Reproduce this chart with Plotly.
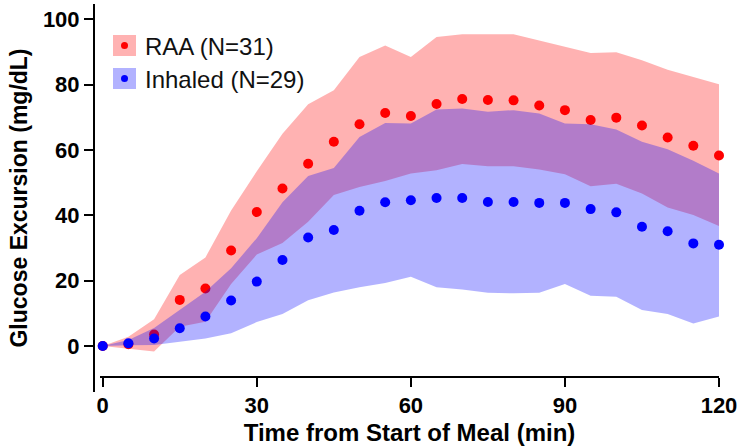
import plotly.graph_objects as go

# ---------------- data ----------------
time_min = [0, 5, 10, 15, 20, 25, 30, 35, 40, 45, 50, 55, 60,
            65, 70, 75, 80, 85, 90, 95, 100, 105, 110, 115, 120]

raa_mean = [0, 0.5, 3.5, 14.1, 17.6, 29.2, 41.0, 48.2, 55.8, 62.5, 67.9, 71.3, 70.4,
            74.1, 75.6, 75.3, 75.2, 73.6, 72.2, 69.2, 69.9, 67.5, 63.8, 61.3, 58.3]
raa_low = [0, -0.8, -1.7, 5.9, 7.4, 19.0, 28.0, 31.5, 38.0, 46.2, 48.7, 50.5, 52.8,
           53.8, 55.7, 55.0, 55.0, 54.0, 52.6, 48.9, 49.7, 46.7, 42.4, 40.1, 36.7]
raa_high = [0, 2.8, 8.2, 21.7, 27.1, 41.5, 53.5, 65.0, 74.0, 78.3, 88.5, 92.0, 88.5,
            94.6, 95.4, 95.4, 95.4, 93.5, 91.7, 89.7, 89.9, 87.5, 84.6, 82.4, 80.1]

inh_mean = [0, 0.8, 2.3, 5.4, 9.0, 13.9, 19.7, 26.3, 33.2, 35.5, 41.4, 44.0, 44.6,
            45.3, 45.3, 44.1, 44.1, 43.8, 43.8, 41.9, 40.9, 36.5, 35.1, 31.4, 31.0]
inh_low = [0, 0.2, 0.3, 1.3, 2.3, 3.9, 7.3, 9.8, 14.0, 16.4, 18.0, 19.3, 21.2,
           18.0, 17.3, 16.3, 16.1, 16.3, 19.0, 15.4, 15.1, 11.0, 9.8, 6.9, 9.0]
inh_high = [0, 1.8, 5.5, 11.0, 16.6, 23.8, 33.0, 44.0, 52.0, 54.5, 64.0, 68.3, 68.1,
            72.4, 72.7, 71.7, 72.2, 71.2, 68.1, 67.9, 66.3, 62.5, 60.2, 56.7, 52.8]

series_names = ["RAA (N=31)", "Inhaled (N=29)"]
x_ticks = [0, 30, 60, 90, 120]
y_ticks = [0, 20, 40, 60, 80, 100]

# ---------------- layout geometry ----------------
W_PX, H_PX = 740, 448
L, R, T, B = 94, 21, 4, 56
PW = W_PX - L - R
PH = H_PX - T - B


def fx(px):
    return (px - L) / PW


def fy(py):
    return (H_PX - B - py) / PH


RED = "#ff0000"
BLUE = "#0000ff"
RED_FILL = "rgba(255,0,0,0.3)"
BLUE_FILL = "rgba(0,0,255,0.3)"
FONT = "Liberation Sans, Arial, sans-serif"

fig = go.Figure()

# RAA band
fig.add_trace(go.Scatter(
    x=time_min + time_min[::-1], y=raa_high + raa_low[::-1],
    fill="toself", fillcolor=RED_FILL, mode="lines", line=dict(width=0),
    hoverinfo="skip", showlegend=False))
# RAA means
fig.add_trace(go.Scatter(
    x=time_min, y=raa_mean, mode="markers", name=series_names[0],
    marker=dict(color=RED, size=10, line=dict(width=0)),
    cliponaxis=False, showlegend=False))
# Inhaled band
fig.add_trace(go.Scatter(
    x=time_min + time_min[::-1], y=inh_high + inh_low[::-1],
    fill="toself", fillcolor=BLUE_FILL, mode="lines", line=dict(width=0),
    hoverinfo="skip", showlegend=False))
# Inhaled means
fig.add_trace(go.Scatter(
    x=time_min, y=inh_mean, mode="markers", name=series_names[1],
    marker=dict(color=BLUE, size=10, line=dict(width=0)),
    cliponaxis=False, showlegend=False))

# custom legend
shapes = []
annotations = []
legend_rows = [(series_names[0], RED_FILL, RED, 35, 56),
               (series_names[1], BLUE_FILL, BLUE, 68, 89)]
for name, fillc, dotc, ytop, ybot in legend_rows:
    shapes.append(dict(type="rect", xref="paper", yref="paper",
                       x0=fx(113), x1=fx(136), y0=fy(ybot), y1=fy(ytop),
                       fillcolor=fillc, line=dict(width=0), layer="above"))
    cy = (ytop + ybot) / 2
    shapes.append(dict(type="circle", xref="paper", yref="paper",
                       x0=fx(121), x1=fx(128), y0=fy(cy + 3.5), y1=fy(cy - 3.5),
                       fillcolor=dotc, line=dict(width=0), layer="above"))
    annotations.append(dict(text=name, xref="paper", yref="paper",
                            x=fx(143), y=fy(cy + 1), xanchor="left", yanchor="middle",
                            showarrow=False,
                            font=dict(family=FONT, size=24, color="#111111")))

fig.update_layout(
    width=W_PX, height=H_PX,
    margin=dict(l=L, r=R, t=T, b=B, autoexpand=False),
    paper_bgcolor="white", plot_bgcolor="white",
    showlegend=False,
    shapes=shapes, annotations=annotations,
    font=dict(family=FONT, color="black"),
    xaxis=dict(
        domain=[fx(100), 1], range=[-0.53, 120],
        anchor="free", position=fy(377),
        showgrid=False, zeroline=False,
        showline=True, linewidth=2, linecolor="black",
        ticks="outside", ticklen=9, tickwidth=2, tickcolor="black",
        tickvals=x_ticks, ticktext=[str(v) for v in x_ticks],
        tickfont=dict(family=FONT, size=22, color="black", weight="bold"),
        title=dict(text="Time from Start of Meal (min)", standoff=6,
                   font=dict(family=FONT, size=24, color="black", weight="bold")),
        automargin=False,
    ),
    yaxis=dict(
        domain=[0, 1], range=[-14.1, 104.7],
        anchor="free", position=0,
        showgrid=False, zeroline=False,
        showline=True, linewidth=2, linecolor="black",
        ticks="outside", ticklen=9, tickwidth=2, tickcolor="black",
        tickvals=y_ticks, ticktext=[str(v) for v in y_ticks],
        tickfont=dict(family=FONT, size=22, color="black", weight="bold"),
        title=dict(text="Glucose Excursion (mg/dL)", standoff=8,
                   font=dict(family=FONT, size=23, color="black", weight="bold")),
        automargin=False,
    ),
)

fig.write_html("out.html")
